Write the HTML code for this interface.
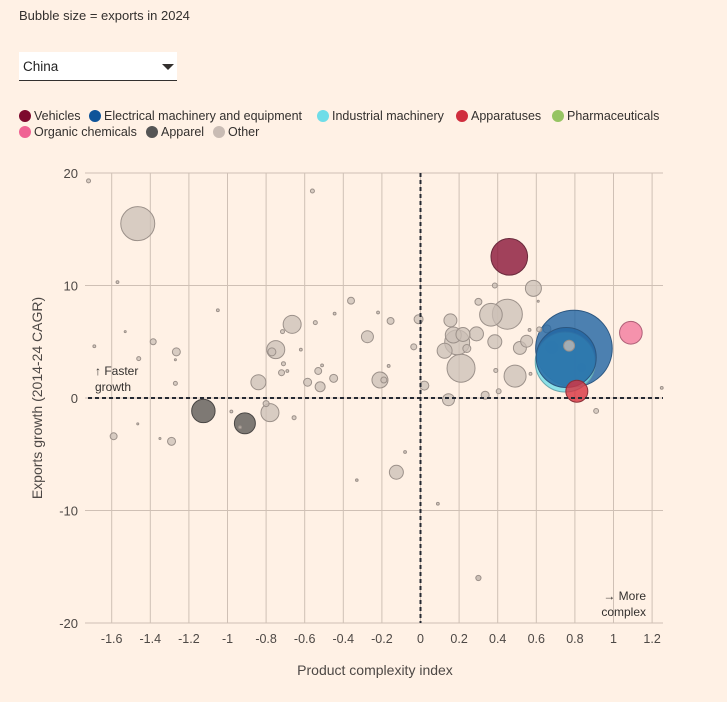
<!DOCTYPE html>
<html><head><meta charset="utf-8">
<style>
body{margin:0;background:#fff1e5;font-family:"Liberation Sans",sans-serif;color:#33302e;}
#wrap{position:relative;width:727px;height:702px;overflow:hidden;background:#fff1e5;}
.t{position:absolute;font-size:12.5px;white-space:nowrap;}
.dot{position:absolute;width:12px;height:12px;border-radius:50%;}
</style></head><body>
<div id="wrap">
<div class="t" style="left:19px;top:8px;font-size:13px">Bubble size = exports in 2024</div>
<div style="position:absolute;left:19px;top:52px;width:158px;height:28px;background:#fff;border-bottom:1.5px solid #33302e;">
 <span style="position:absolute;left:4px;top:7px;font-size:13.5px;color:#222;">China</span>
 <span style="position:absolute;left:143px;top:12px;width:0;height:0;border-left:6px solid transparent;border-right:6px solid transparent;border-top:6px solid #33302e;"></span>
</div>
<div>
<div class="dot" style="left:19px;top:110px;background:#7d0a2e"></div><div class="t" style="left:34px;top:109px">Vehicles</div>
<div class="dot" style="left:89px;top:110px;background:#0f5499"></div><div class="t" style="left:104px;top:109px">Electrical machinery and equipment</div>
<div class="dot" style="left:317px;top:110px;background:#6fdde8"></div><div class="t" style="left:332px;top:109px">Industrial machinery</div>
<div class="dot" style="left:456px;top:110px;background:#d02e3e"></div><div class="t" style="left:471px;top:109px">Apparatuses</div>
<div class="dot" style="left:552px;top:110px;background:#96c462"></div><div class="t" style="left:567px;top:109px">Pharmaceuticals</div>
<div class="dot" style="left:19px;top:126px;background:#f06293"></div><div class="t" style="left:34px;top:125px">Organic chemicals</div>
<div class="dot" style="left:146px;top:126px;background:#555"></div><div class="t" style="left:161px;top:125px">Apparel</div>
<div class="dot" style="left:213px;top:126px;background:#c9bcb4"></div><div class="t" style="left:228px;top:125px">Other</div>
</div>
<svg id="chart" width="727" height="702" style="position:absolute;left:0;top:0"></svg>
</div>
<script>
const xTicks=[-1.6,-1.4,-1.2,-1,-0.8,-0.6,-0.4,-0.2,0,0.2,0.4,0.6,0.8,1,1.2];
const xTickLabels=["-1.6","-1.4","-1.2","-1","-0.8","-0.6","-0.4","-0.2","0","0.2","0.4","0.6","0.8","1","1.2"];
const yTicks=[20,10,0,-10,-20];
const yTickLabels=["20","10","0","-10","-20"];
const categories=["other","other","other","other","other","other","other","other","other","other","other","other","other","other","other","other","apparel","apparel","other","other","other","other","other","other","other","other","other","other","other","other","other","other","other","other","other","other","other","other","other","other","other","other","other","other","other","other","other","other","vehicles","other","other","other","other","other","other","other","other","other","other","other","other","other","other","other","other","other","other","other","other","other","other","other","other","other","other","industrial","electrical","electrical","other","other","other","other","apparatuses","organic","other","other","other","other","other"];
const complexity=[-1.72,-1.465,-1.57,-1.05,-0.56,-1.69,-1.53,-1.385,-1.46,-1.265,-1.27,-1.27,-1.59,-1.465,-1.35,-1.29,-1.125,-0.91,-0.935,-0.98,-0.80,-0.78,-0.84,-0.75,-0.77,-0.665,-0.715,-0.71,-0.72,-0.69,-0.62,-0.655,-0.585,-0.545,-0.53,-0.52,-0.51,-0.445,-0.45,-0.36,-0.275,-0.22,-0.21,-0.19,-0.165,-0.155,-0.035,-0.01,0.46,-0.08,-0.125,0.385,0.585,0.61,0.30,0.155,0.365,0.45,0.29,0.17,0.22,0.19,0.125,0.24,0.21,0.385,0.55,0.515,0.49,0.39,0.57,0.405,0.335,0.145,0.02,0.75,0.795,0.755,0.565,0.615,0.655,0.68,0.81,1.09,0.77,0.835,0.91,1.25,0.09];
const growth=[19.3,15.5,10.3,7.8,18.4,4.6,5.9,5.0,3.5,4.1,3.4,1.3,-3.4,-2.3,-3.6,-3.85,-1.15,-2.25,-2.6,-1.2,-0.5,-1.3,1.4,4.3,4.1,6.55,5.9,3.05,2.25,2.4,4.3,-1.75,1.4,6.7,2.4,1.0,2.9,7.5,1.75,8.65,5.45,7.6,1.6,1.6,2.85,6.85,4.55,7.0,12.55,-4.8,-6.6,10.0,9.75,8.6,8.55,6.9,7.4,7.45,5.7,5.6,5.65,4.95,4.2,4.4,2.65,5.0,5.05,4.45,1.95,2.45,2.15,0.6,0.25,-0.15,1.1,3.2,4.4,3.6,6.05,6.1,6.15,4.5,0.6,5.8,4.65,2.7,-1.15,0.9,-9.4];
const exportsBn=[4,289,2,2,4,2,1,9,4,16,1,4,12,1,1,16,137,110,2,2,9,81,56,81,16,81,4,4,9,2,2,4,16,4,12,25,2,2,16,12,36,2,64,9,2,12,9,20,335,2,49,6,64,1,12,42,128,225,49,64,49,156,56,16,196,49,36,42,121,4,2,6,16,36,20,900,1467,900,2,6,16,36,121,128,30,16,6,2,2];
const extra=[[0.30,-16.0,2],[-0.33,-7.3,1]];
const behind=[80,81,85];
const colors={other:"#cbbfb6",apparel:"#5e5b58",vehicles:"#8a1538",electrical:"#1f64a3",industrial:"#6fdde8",apparatuses:"#d8323f",organic:"#f27a9d"};
const strokes={other:"#9c918a",apparel:"#4a4745",vehicles:"#6a2a3c",electrical:"#2b5680",industrial:"#6aa7ad",apparatuses:"#8a3038",organic:"#b06078"};
const X=v=>420.5+v*193, Y=v=>398-v*11.25, R=e=>Math.sqrt(e);
const NS="http://www.w3.org/2000/svg", svg=document.getElementById('chart');
function mk(t,a){const e=document.createElementNS(NS,t);for(const k in a)e.setAttribute(k,a[k]);svg.appendChild(e);return e;}
xTicks.forEach((v,i)=>{
 const l=mk('line',{x1:X(v),x2:X(v),y1:173,y2:623,stroke:'#cfc0b5','stroke-width':1});
 
 
 const t=mk('text',{x:X(v),y:643,'text-anchor':'middle','font-size':12.5,fill:'#4d4845','font-family':'Liberation Sans, sans-serif'});
 t.textContent=xTickLabels[i];
 
 
});
yTicks.forEach((v,i)=>{
 const l=mk('line',{x1:85,x2:663,y1:Y(v),y2:Y(v),stroke:'#cfc0b5','stroke-width':1});
 
 
 const t=mk('text',{x:78,y:Y(v)+5,'text-anchor':'end','font-size':13,fill:'#4d4845','font-family':'Liberation Sans, sans-serif'});
 t.textContent=yTickLabels[i];
 
 
});
const rest=categories.map((c,i)=>i).filter(i=>behind.indexOf(i)<0).sort((a,b)=>exportsBn[b]-exportsBn[a]);
const order=behind.concat(rest);
order.forEach(i=>{
 const c=categories[i];
 const b=mk('circle',{cx:X(complexity[i]),cy:Y(growth[i]),r:R(exportsBn[i]),fill:colors[c],'fill-opacity':c==='other'?0.75:0.8,stroke:strokes[c],'stroke-width':1});
 
 
});
extra.forEach(d=>{
 const b=mk('circle',{cx:X(d[0]),cy:Y(d[1]),r:d[2]*1.3,fill:colors.other,stroke:strokes.other,'stroke-width':1});
 
 
});
const zx=mk('line',{x1:88,x2:663,y1:Y(0),y2:Y(0),stroke:'#262a33','stroke-width':2,'stroke-dasharray':'4,3'});


const zy=mk('line',{x1:X(0),x2:X(0),y1:173,y2:623,stroke:'#262a33','stroke-width':2,'stroke-dasharray':'4,3'});


function txt(x,y,s,a,name,size,anchor){const t=mk('text',Object.assign({x:x,y:y,'font-size':size||12,fill:'#33302e','font-family':'Liberation Sans, sans-serif','text-anchor':anchor||'start'},a||{}));t.textContent=s;return t;}
txt(95,375,'↑ Faster',null,'faster-growth-note');
txt(95,391,'growth',null,'faster-growth-note-2');
txt(646,600,'→ More',null,'more-complex-note',12,'end');
txt(646,616,'complex',null,'more-complex-note-2',12,'end');
txt(375,675,'Product complexity index',{fill:'#4d4845'},'x-axis-title',14,'middle');
txt(42,398,'Exports growth (2014-24 CAGR)',{transform:'rotate(-90 42 398)',fill:'#4d4845'},'y-axis-title',14,'middle');
</script>
</body></html>
